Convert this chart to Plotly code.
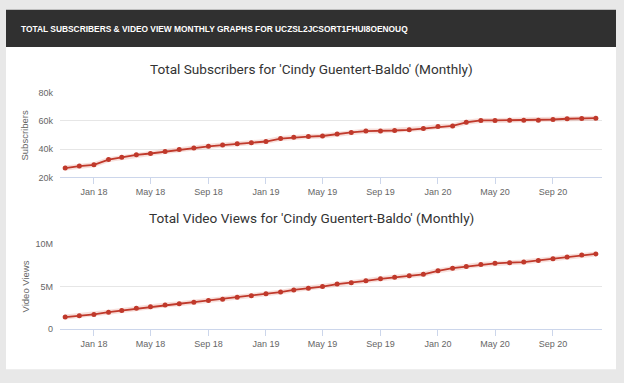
import plotly.graph_objects as go

W, H = 624, 383

months = [
    "2017-11-01", "2017-12-01",
    "2018-01-01", "2018-02-01", "2018-03-01", "2018-04-01", "2018-05-01", "2018-06-01",
    "2018-07-01", "2018-08-01", "2018-09-01", "2018-10-01", "2018-11-01", "2018-12-01",
    "2019-01-01", "2019-02-01", "2019-03-01", "2019-04-01", "2019-05-01", "2019-06-01",
    "2019-07-01", "2019-08-01", "2019-09-01", "2019-10-01", "2019-11-01", "2019-12-01",
    "2020-01-01", "2020-02-01", "2020-03-01", "2020-04-01", "2020-05-01", "2020-06-01",
    "2020-07-01", "2020-08-01", "2020-09-01", "2020-10-01", "2020-11-01", "2020-12-01",
]

subscribers = [
    26600, 28000,
    28900, 32600, 34200, 36000, 36900, 38300, 39700, 40800, 42000, 42900, 43800, 44500,
    45400, 47500, 48400, 48900, 49300, 50700, 51800, 52800, 52800, 53200, 53700, 54600,
    56000, 56400, 59000, 60300, 60300, 60500, 60500, 60500, 61000, 61500, 61700, 61900,
]

video_views = [
    1430000, 1580000,
    1740000, 2000000, 2190000, 2450000, 2640000, 2830000, 2980000, 3170000, 3360000, 3510000, 3740000, 3920000,
    4150000, 4340000, 4600000, 4790000, 4980000, 5280000, 5430000, 5660000, 5890000, 6080000, 6260000, 6420000,
    6830000, 7130000, 7320000, 7550000, 7700000, 7770000, 7850000, 8040000, 8230000, 8450000, 8680000, 8790000,
]

x_tick_vals = ["2018-01-01", "2018-05-01", "2018-09-01", "2019-01-01", "2019-05-01",
               "2019-09-01", "2020-01-01", "2020-05-01", "2020-09-01"]
x_tick_text = ["Jan 18", "May 18", "Sep 18", "Jan 19", "May 19", "Sep 19", "Jan 20", "May 20", "Sep 20"]

sub_tick_vals = [20000, 40000, 60000, 80000]
sub_tick_text = ["20k", "40k", "60k", "80k"]
view_tick_vals = [0, 5000000, 10000000]
view_tick_text = ["0", "5M", "10M"]

header_text = "TOTAL SUBSCRIBERS & VIDEO VIEW MONTHLY GRAPHS FOR UCZSL2JCSORT1FHUI8OENOUQ"
title_top = "Total Subscribers for 'Cindy Guentert-Baldo' (Monthly)"
title_bottom = "Total Video Views for 'Cindy Guentert-Baldo' (Monthly)"

LINE = "#c0392b"
HALO = "rgba(220,110,90,0.22)"
GRID = "#e6e6e6"
AXIS = "#ccd6eb"
TICKC = "#666666"
FONT = "Roboto, Arial, sans-serif"
TFONT = "Liberation Sans, Arial, sans-serif"


def px(x):
    return x / W


def py(y):
    return 1 - y / H


fig = go.Figure()

for ys, xa, ya in [(subscribers, "x", "y"), (video_views, "x2", "y2")]:
    fig.add_trace(go.Scatter(x=months, y=ys, xaxis=xa, yaxis=ya, mode="lines",
                             line=dict(color=HALO, width=5), hoverinfo="skip", showlegend=False))
    fig.add_trace(go.Scatter(x=months, y=ys, xaxis=xa, yaxis=ya, mode="lines+markers",
                             line=dict(color=LINE, width=1.8),
                             marker=dict(color=LINE, size=5), showlegend=False))

xrange = ["2017-10-21", "2020-12-14"]
xcommon = dict(range=xrange, type="date", tickvals=x_tick_vals, ticktext=x_tick_text,
               showgrid=False, showline=True, linecolor=AXIS, linewidth=1,
               ticks="outside", ticklen=6, tickcolor=AXIS, tickwidth=1,
               tickfont=dict(family=TFONT, size=9, color=TICKC), zeroline=False,
               domain=[px(60), px(602)], fixedrange=True)

fig.update_layout(
    width=W, height=H,
    margin=dict(l=0, r=0, t=0, b=0),
    paper_bgcolor="#e8e8e8",
    plot_bgcolor="rgba(0,0,0,0)",
    xaxis=dict(anchor="y", **xcommon),
    xaxis2=dict(anchor="y2", **xcommon),
    yaxis=dict(range=[20000, 80000], domain=[py(177), py(90)], tickvals=sub_tick_vals,
               ticktext=sub_tick_text, showgrid=True, gridcolor=GRID, zeroline=False,
               tickfont=dict(family=TFONT, size=9, color=TICKC), ticklabelstandoff=6,
               fixedrange=True),
    yaxis2=dict(range=[0, 10000000], domain=[py(333), py(245)], tickvals=view_tick_vals,
                ticktext=view_tick_text, showgrid=True, gridcolor=GRID, zeroline=False,
                tickfont=dict(family=TFONT, size=9, color=TICKC), ticklabelstandoff=6,
                fixedrange=True),
    shapes=[
        dict(type="rect", xref="paper", yref="paper", x0=px(6), x1=px(616), y0=py(374), y1=py(5),
             fillcolor="white", line=dict(width=0), layer="below"),
        dict(type="rect", xref="paper", yref="paper", x0=px(6), x1=px(616), y0=py(43), y1=py(5),
             fillcolor="#303030", line=dict(width=0), layer="below"),
    ],
    annotations=[
        dict(text="<b>" + header_text + "</b>", x=px(19), y=py(25), xref="paper", yref="paper",
             xanchor="left", yanchor="middle", showarrow=False,
             font=dict(family=TFONT, size=8.4, color="white")),
        dict(text=title_top, x=px(311), y=py(66), xref="paper", yref="paper",
             xanchor="center", yanchor="middle", showarrow=False,
             font=dict(family=FONT, size=13.6, color="#333333")),
        dict(text=title_bottom, x=px(311), y=py(219), xref="paper", yref="paper",
             xanchor="center", yanchor="middle", showarrow=False,
             font=dict(family=FONT, size=13.6, color="#333333")),
        dict(text="Subscribers", x=px(25), y=py(134), xref="paper", yref="paper",
             xanchor="center", yanchor="middle", showarrow=False, textangle=-90,
             font=dict(family=TFONT, size=9.5, color=TICKC)),
        dict(text="Video Views", x=px(25), y=py(289), xref="paper", yref="paper",
             xanchor="center", yanchor="middle", showarrow=False, textangle=-90,
             font=dict(family=TFONT, size=9.5, color=TICKC)),
    ],
)

fig.write_html("out.html", config={"displayModeBar": False},
               post_script="document.body.style.margin='0';")
